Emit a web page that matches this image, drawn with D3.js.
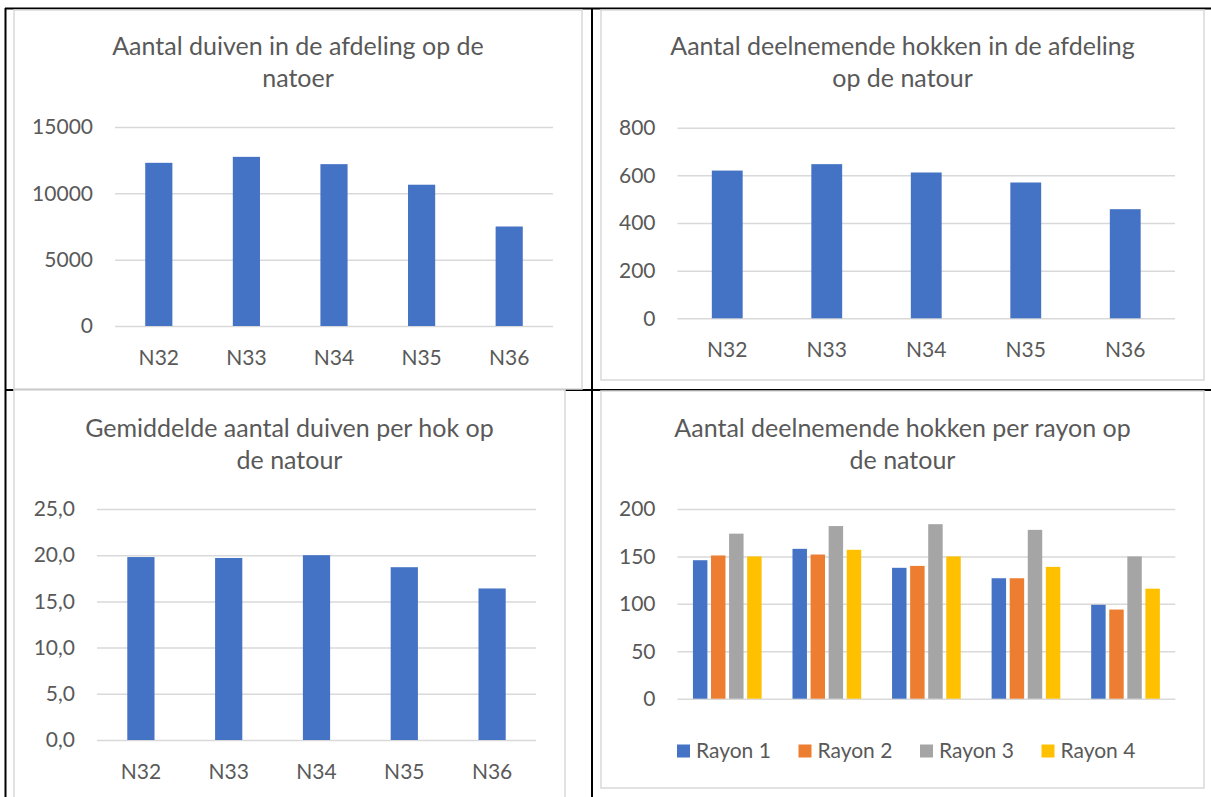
<!DOCTYPE html>
<html>
<head>
<meta charset="utf-8">
<script src="https://cdn.jsdelivr.net/npm/d3@7"></script>
<style>
  body { margin:0; background:#fff; }
  text { font-family: Lato, "Open Sans", sans-serif; fill:#595959; }
</style>
</head>
<body>
<script>
const width = 1211;
const height = 797;

// data
const weeks = ["N32","N33","N34","N35","N36"];
const duiven = [12300, 12750, 12200, 10650, 7500];
const hokken = [620, 647, 612, 570, 458];
const gemiddelde = [19.8, 19.7, 20.0, 18.7, 16.4];
const rayons = ["Rayon 1","Rayon 2","Rayon 3","Rayon 4"];
const rayon1 = [146, 158, 138, 127, 99];
const rayon2 = [151, 152, 140, 127, 94];
const rayon3 = [174, 182, 184, 178, 150];
const rayon4 = [150, 157, 150, 139, 116];
const duivenTicks = [0, 5000, 10000, 15000];
const hokkenTicks = [0, 200, 400, 600, 800];
const gemTicks = [0, 5, 10, 15, 20, 25];
const rayonTicks = [0, 50, 100, 150, 200];

const colors = ["#4472C4","#ED7D31","#A5A5A5","#FFC000"];
const nl = d3.formatLocale({decimal:",", thousands:".", grouping:[3], currency:["€",""]});

const svg = d3.select("body").append("svg")
  .attr("width", width)
  .attr("height", height);

svg.append("rect").attr("width", width).attr("height", height).attr("fill", "#fff");

// table lines (the charts sit on top of them)
const table = svg.append("g").attr("stroke", "#000").attr("stroke-width", 2);
table.append("line").attr("x1", 5).attr("x2", width).attr("y1", 8.5).attr("y2", 8.5);
table.append("line").attr("x1", 5).attr("x2", width).attr("y1", 390).attr("y2", 390);
table.append("line").attr("x1", 5.5).attr("x2", 5.5).attr("y1", 8).attr("y2", height);
table.append("line").attr("x1", 592).attr("x2", 592).attr("y1", 8).attr("y2", height);

function drawChart(cfg) {
  const g = svg.append("g");
  g.append("rect")
    .attr("x", cfg.box[0]).attr("y", cfg.box[1])
    .attr("width", cfg.box[2]).attr("height", cfg.box[3])
    .attr("fill", "#fff").attr("stroke", "#d9d9d9").attr("stroke-width", 1.5);

  const cx = cfg.box[0] + cfg.box[2] / 2;
  cfg.title.forEach((t, i) => {
    g.append("text")
      .attr("x", cx).attr("y", cfg.titleY + i * 32)
      .attr("text-anchor", "middle")
      .style("font-size", "25px")
      .text(t);
  });

  const x = d3.scaleBand().domain(weeks).range(cfg.xr).paddingInner(0.69).paddingOuter(0.345);
  const y = d3.scaleLinear().domain([0, d3.max(cfg.ticks)]).range(cfg.yr);

  const yAxis = g.append("g")
    .attr("transform", `translate(${cfg.xr[0]},0)`)
    .call(d3.axisLeft(y).tickValues(cfg.ticks).tickFormat(cfg.fmt)
      .tickSizeInner(-(cfg.xr[1] - cfg.xr[0])).tickSizeOuter(0).tickPadding(22));
  yAxis.select(".domain").remove();
  yAxis.selectAll("line").attr("stroke", "#d9d9d9").attr("stroke-width", 1.5);
  yAxis.selectAll("text").style("font-size", "21px").attr("fill", "#595959");

  if (!cfg.hideX) {
    const xAxis = g.append("g")
      .attr("transform", `translate(0,${cfg.yr[0]})`)
      .call(d3.axisBottom(x).tickSize(0).tickPadding(24));
    xAxis.select(".domain").remove();
    xAxis.selectAll("text").style("font-size", "21px").attr("fill", "#595959");
  }

  if (cfg.series.length === 1) {
    g.append("g").selectAll("rect")
      .data(cfg.series[0].map((v, i) => ({week: weeks[i], value: v})))
      .join("rect")
      .attr("x", d => x(d.week))
      .attr("y", d => y(d.value))
      .attr("width", x.bandwidth())
      .attr("height", d => y(0) - y(d.value))
      .attr("fill", colors[0]);
  } else {
    const x0 = d3.scaleBand().domain(weeks).range(cfg.xr).paddingInner(0.31).paddingOuter(0.155);
    const x1 = d3.scaleBand().domain(rayons).range([0, x0.bandwidth()]).paddingInner(0.2).paddingOuter(0);
    const grp = g.append("g").selectAll("g")
      .data(weeks)
      .join("g")
      .attr("transform", w => `translate(${x0(w)},0)`);
    grp.selectAll("rect")
      .data((w, wi) => rayons.map((r, ri) => ({rayon: r, value: cfg.series[ri][wi]})))
      .join("rect")
      .attr("x", d => x1(d.rayon))
      .attr("y", d => y(d.value))
      .attr("width", x1.bandwidth())
      .attr("height", d => y(0) - y(d.value))
      .attr("fill", (d, i) => colors[i]);

    const leg = g.append("g").selectAll("g")
      .data(rayons)
      .join("g")
      .attr("transform", (d, i) => `translate(${cfg.legendX + i * 121.5},${cfg.legendY})`);
    leg.append("rect").attr("x", 0).attr("y", -6.5).attr("width", 13).attr("height", 13)
      .attr("fill", (d, i) => colors[i]);
    leg.append("text").attr("x", 19).attr("dy", "0.35em")
      .style("font-size", "21px").text(d => d);
  }
}

drawChart({
  box: [14, 10, 568, 379],
  title: ["Aantal duiven in de afdeling op de", "natoer"],
  titleY: 55,
  xr: [115, 553], yr: [326, 127],
  ticks: duivenTicks, fmt: d3.format("d"),
  series: [duiven]
});

drawChart({
  box: [601, 10, 603, 370],
  title: ["Aantal deelnemende hokken in de afdeling", "op de natour"],
  titleY: 55,
  xr: [677.5, 1175], yr: [318.3, 127.7],
  ticks: hokkenTicks, fmt: d3.format("d"),
  series: [hokken]
});

drawChart({
  box: [14, 390, 551, 420],
  title: ["Gemiddelde aantal duiven per hok op", "de natour"],
  titleY: 436.7,
  xr: [97, 536], yr: [740, 509],
  ticks: gemTicks, fmt: nl.format(".1f"),
  series: [gemiddelde]
});

drawChart({
  box: [601, 391, 603, 397],
  title: ["Aantal deelnemende hokken per rayon op", "de natour"],
  titleY: 436.7,
  xr: [677.5, 1175.3], yr: [698.7, 509],
  ticks: rayonTicks, fmt: d3.format("d"),
  series: [rayon1, rayon2, rayon3, rayon4],
  hideX: true,
  legendX: 677, legendY: 751
});
</script>
</body>
</html>
